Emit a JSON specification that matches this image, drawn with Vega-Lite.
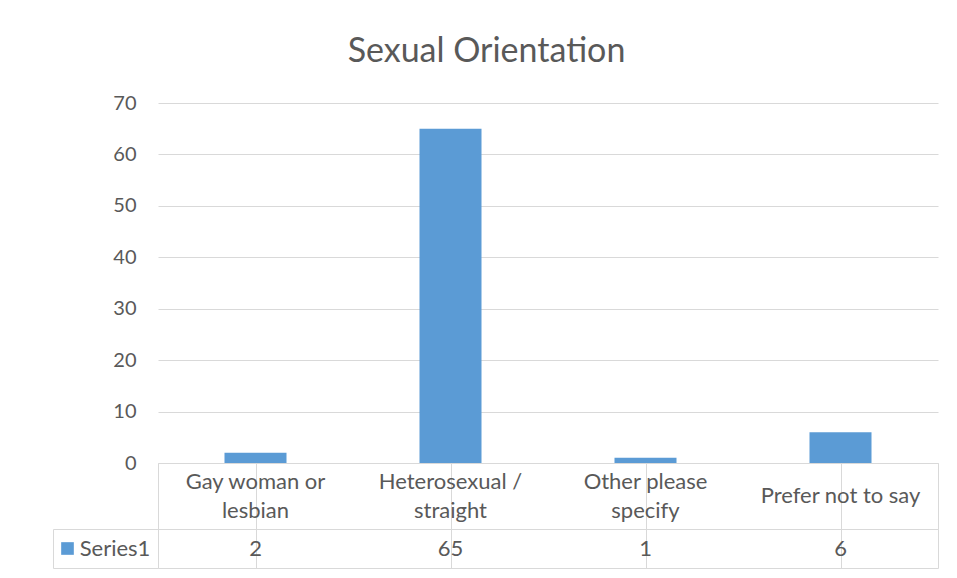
{
  "$schema": "https://vega.github.io/schema/vega-lite/v6.json",
  "padding": {"left": 52, "top": 35, "right": 20, "bottom": 10},
  "background": "white",
  "title": {
    "text": "Sexual Orientation",
    "font": "Lato",
    "fontSize": 34,
    "fontWeight": "normal",
    "color": "#595959",
    "anchor": "middle",
    "dx": -9,
    "offset": 24
  },
  "datasets": {
    "counts": [
      {"category": "Gay woman or lesbian", "label": "Gay woman or\nlesbian", "count": 2},
      {"category": "Heterosexual / straight", "label": "Heterosexual /\nstraight", "count": 65},
      {"category": "Other please specify", "label": "Other please\nspecify", "count": 1},
      {"category": "Prefer not to say", "label": "Prefer not to say", "count": 6}
    ],
    "series": [{"series": "Series1"}]
  },
  "columns": 2,
  "spacing": 0,
  "bounds": "flush",
  "concat": [
    {
      "width": 105, "height": 360,
      "data": {"name": "series"},
      "mark": {"type": "text", "text": ""},
      "encoding": {}
    },
    {
      "width": 780, "height": 360,
      "data": {"name": "counts"},
      "mark": {"type": "bar", "color": "#5B9BD5"},
      "encoding": {
        "x": {
          "field": "category", "type": "nominal", "sort": null,
          "scale": {"paddingInner": 0.682, "paddingOuter": 0.341},
          "axis": {"labels": false, "ticks": false, "domain": false, "title": null, "grid": false}
        },
        "y": {
          "field": "count", "type": "quantitative",
          "scale": {"domain": [0, 70]},
          "axis": {
            "values": [0, 10, 20, 30, 40, 50, 60, 70],
            "title": null, "domain": false, "ticks": false,
            "labelFont": "Lato", "labelFontSize": 20, "labelColor": "#595959",
            "labelPadding": 22, "gridColor": "#D9D9D9", "gridWidth": 1
          }
        }
      }
    },
    {
      "width": 105, "height": 66,
      "data": {"name": "series"},
      "mark": {"type": "text", "text": ""},
      "encoding": {}
    },
    {
      "width": 780, "height": 66,
      "data": {"name": "counts"},
      "view": {"stroke": "#D9D9D9"},
      "mark": {
        "type": "text", "lineBreak": "\n", "font": "Lato", "fontSize": 22, "lineHeight": 29,
        "color": "#595959", "baseline": "middle",
        "dy": {"expr": "indexof(datum.label, '\\n') >= 0 ? -14.5 : 0"}
      },
      "encoding": {
        "x": {
          "field": "category", "type": "nominal", "sort": null,
          "scale": {"paddingInner": 0, "paddingOuter": 0},
          "axis": {"labels": false, "ticks": false, "domain": false, "title": null, "grid": true, "bandPosition": 0, "gridColor": "#D9D9D9"}
        },
        "text": {"field": "label"}
      }
    },
    {
      "width": 105, "height": 39,
      "data": {"name": "series"},
      "view": {"stroke": "#D9D9D9"},
      "layer": [
        {
          "mark": {"type": "point", "shape": "square", "filled": true, "size": 160, "opacity": 1, "color": "#5B9BD5", "xOffset": -38},
          "encoding": {}
        },
        {
          "mark": {"type": "text", "font": "Lato", "fontSize": 22, "color": "#595959", "xOffset": 9.5},
          "encoding": {"text": {"field": "series"}}
        }
      ]
    },
    {
      "width": 780, "height": 39,
      "data": {"name": "counts"},
      "view": {"stroke": "#D9D9D9"},
      "mark": {"type": "text", "font": "Lato", "fontSize": 22, "color": "#595959"},
      "encoding": {
        "x": {
          "field": "category", "type": "nominal", "sort": null,
          "scale": {"paddingInner": 0, "paddingOuter": 0},
          "axis": {"labels": false, "ticks": false, "domain": false, "title": null, "grid": true, "bandPosition": 0, "gridColor": "#D9D9D9"}
        },
        "text": {"field": "count"}
      }
    }
  ],
  "config": {
    "view": {"stroke": null},
    "font": "Lato"
  }
}
